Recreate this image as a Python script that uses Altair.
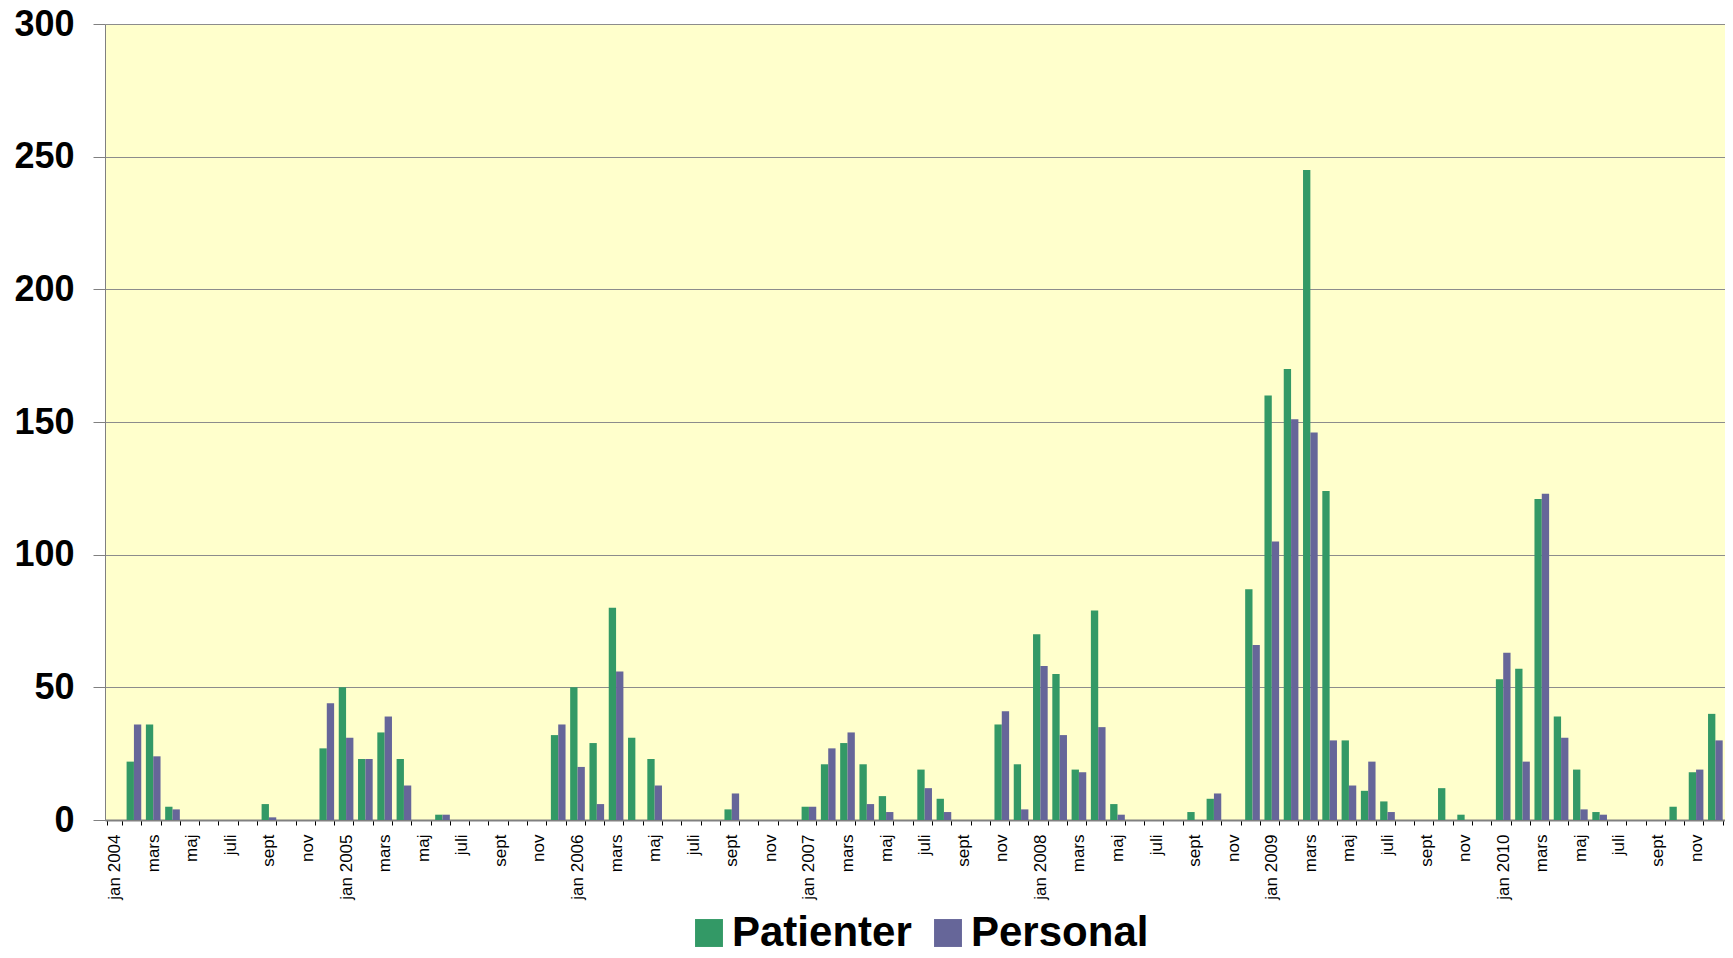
import json
import altair as alt
import pandas as pd

years = [2004, 2005, 2006, 2007, 2008, 2009, 2010]
month_names = ["jan", "feb", "mars", "april", "maj", "juni",
               "juli", "aug", "sept", "okt", "nov", "dec"]

series = ["Patienter", "Personal"]
colors = ["#339966", "#666699"]

patienter = [
    0, 22, 36, 5, 0, 0, 0, 0, 6, 0, 0, 27,
    50, 23, 33, 23, 0, 2, 0, 0, 0, 0, 0, 32,
    50, 29, 80, 31, 23, 0, 0, 0, 4, 0, 0, 0,
    5, 21, 29, 21, 9, 0, 19, 8, 0, 0, 36, 21,
    70, 55, 19, 79, 6, 0, 0, 0, 3, 8, 0, 87,
    160, 170, 245, 124, 30, 11, 7, 0, 0, 12, 2, 0,
    53, 57, 121, 39, 19, 3, 0, 0, 0, 5, 18, 40,
]
personal = [
    0, 36, 24, 4, 0, 0, 0, 0, 1, 0, 0, 44,
    31, 23, 39, 13, 0, 2, 0, 0, 0, 0, 0, 36,
    20, 6, 56, 0, 13, 0, 0, 0, 10, 0, 0, 0,
    5, 27, 33, 6, 3, 0, 12, 3, 0, 0, 41, 4,
    58, 32, 18, 35, 2, 0, 0, 0, 0, 10, 0, 66,
    105, 151, 146, 30, 13, 22, 3, 0, 0, 0, 0, 0,
    63, 22, 123, 31, 4, 2, 0, 0, 0, 0, 19, 30,
]

y_ticks = [0, 50, 100, 150, 200, 250, 300]

# tick labels: every other month, year shown with january
tick_labels = []
for y in years:
    for m, name in enumerate(month_names):
        if m == 0:
            tick_labels.append(f"jan {y}")
        elif m % 2 == 0:
            tick_labels.append(name)
        else:
            tick_labels.append("")

rows = []
for i in range(len(patienter)):
    rows.append({"idx": i, "serie": series[0], "value": patienter[i]})
    rows.append({"idx": i, "serie": series[1], "value": personal[i]})
df = pd.DataFrame(rows)

FONT = "Liberation Sans"

chart = alt.Chart(df).mark_bar().encode(
    x=alt.X(
        "idx:O",
        scale=alt.Scale(paddingInner=0.24, paddingOuter=0.12),
        axis=alt.Axis(
            title=None,
            labelExpr=f"{json.dumps(tick_labels)}[datum.value]",
            labelAngle=270,
            labelFontSize=17,
            labelFont=FONT,
            labelColor="#000000",
            labelPadding=9,
            labelOverlap=False,
            tickBand="extent",
            tickSize=5,
            tickColor="#000000",
            domainColor="#808080",
            domainWidth=2,
            grid=False,
        ),
    ),
    xOffset=alt.XOffset("serie:N", sort=series,
                        scale=alt.Scale(paddingInner=0, paddingOuter=0)),
    y=alt.Y(
        "value:Q",
        scale=alt.Scale(domain=[0, 300], nice=False),
        axis=alt.Axis(
            title=None,
            values=y_ticks,
            labelFontSize=36,
            labelFontWeight="bold",
            labelFont=FONT,
            labelColor="#000000",
            labelPadding=19,
            tickSize=12,
            tickColor="#808080",
            domainColor="#808080",
            grid=True,
            gridColor="#8c8c8c",
            gridWidth=1,
        ),
    ),
    color=alt.Color(
        "serie:N",
        sort=series,
        scale=alt.Scale(domain=series, range=colors),
        legend=alt.Legend(
            title=None,
            orient="none",
            legendX=583,
            legendY=888,
            direction="horizontal",
            symbolType="square",
            symbolSize=780,
            symbolStrokeWidth=0,
            labelFontSize=42,
            labelFontWeight="bold",
            labelFont=FONT,
            labelColor="#000000",
            labelLimit=500,
            labelOffset=2,
            columnPadding=15,
            padding=0,
        ),
    ),
).properties(
    width=1620,
    height=796,
    autosize=alt.AutoSizeParams(type="none"),
    padding={"left": 97, "top": 16, "right": 0, "bottom": 128},
).configure(
    font=FONT,
).configure_view(
    fill="#FFFFCC",
    stroke="transparent",
)

chart.save("out.html", embed_options={"renderer": "svg", "actions": False})
